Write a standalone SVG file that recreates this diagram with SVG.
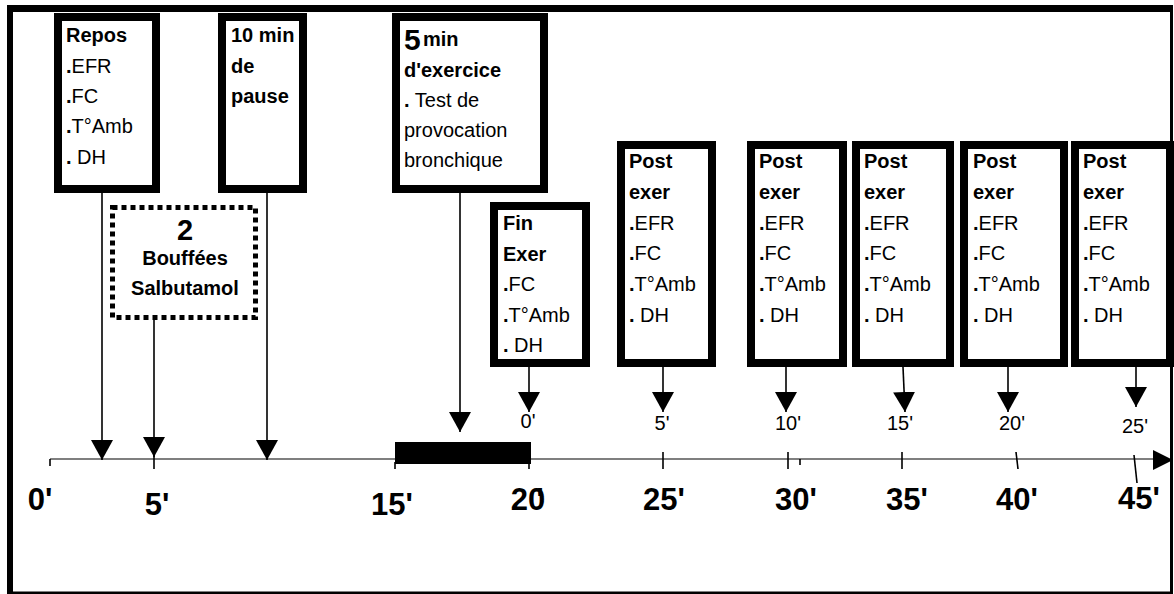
<svg xmlns="http://www.w3.org/2000/svg" width="1174" height="594" viewBox="0 0 1174 594">
<defs>
<style>
.box{fill:#fff;stroke:#000;stroke-width:8}
.dot{fill:#fff;stroke:#000;stroke-width:5;stroke-dasharray:5 4}
.t{font-family:"Liberation Sans",Arial,sans-serif;font-size:20px;fill:#000}
.b{font-weight:bold}
.sm{font-family:"Liberation Sans",Arial,sans-serif;font-size:20px;fill:#000;text-anchor:middle}
.big{font-family:"Liberation Sans",Arial,sans-serif;font-size:31px;font-weight:bold;fill:#000;text-anchor:middle}
.ln{stroke:#000;stroke-width:1.6;fill:none}
.tk{stroke:#000;stroke-width:1.6}
</style>
<marker id="ah" markerUnits="userSpaceOnUse" viewBox="0 0 20 22" refX="20" refY="11" markerWidth="20" markerHeight="22" orient="auto">
<path d="M0,0 L20,11 L0,22 z" fill="#000"/>
</marker>
</defs>
<rect width="1174" height="594" fill="#fff"/>
<g id="frame">
<rect x="7" y="5" width="1166" height="7" fill="#000"/>
<rect x="7" y="5" width="6" height="589" fill="#000"/>
<rect x="1170" y="5" width="3" height="589" fill="#000"/>
<rect x="7" y="591.5" width="1166" height="2.5" fill="#000"/>
</g>
<g id="timeline">
<line x1="50" y1="459" x2="1155" y2="459" stroke="#555" stroke-width="1.6"/>
<polygon points="1153,450 1173,460 1153,470" fill="#000"/>
<rect x="395" y="442" width="136" height="22" fill="#000"/>
<line class="tk" x1="50" y1="459" x2="50" y2="466"/>
<line class="tk" x1="395" y1="462" x2="395" y2="469"/>
<line class="tk" x1="529" y1="462" x2="529" y2="469"/>
<line class="tk" x1="663" y1="452" x2="663" y2="469"/>
<line class="tk" x1="788" y1="452" x2="788" y2="469"/>
<line class="tk" x1="800" y1="459" x2="800" y2="465"/>
<line class="tk" x1="902" y1="452" x2="902" y2="469"/>
<line class="tk" x1="1016" y1="452" x2="1018" y2="469"/>
<line class="tk" x1="1134" y1="455" x2="1137" y2="483"/>
<text class="big" x="40" y="510">0'</text>
<text class="big" x="157" y="515">5'</text>
<text class="big" x="392" y="515">15'</text>
<text class="big" x="528" y="510">20<tspan dx="-9">'</tspan></text>
<text class="big" x="664" y="510">25'</text>
<text class="big" x="796" y="510">30'</text>
<text class="big" x="907" y="510">35'</text>
<text class="big" x="1017" y="510">40'</text>
<text class="big" x="1139" y="509">45'</text>
<text class="sm" x="528" y="428">0'</text>
<text class="sm" x="662" y="430">5'</text>
<text class="sm" x="788" y="430">10'</text>
<text class="sm" x="900" y="430">15'</text>
<text class="sm" x="1012" y="430">20'</text>
<text class="sm" x="1135" y="433">25'</text>
</g>
<g id="connectors">
<line class="ln" x1="102" y1="193" x2="102" y2="460" marker-end="url(#ah)"/>
<line class="ln" x1="154" y1="320" x2="154" y2="457" marker-end="url(#ah)"/>
<line class="ln" x1="154" y1="455" x2="154" y2="469"/>
<line class="ln" x1="267" y1="193" x2="267" y2="460" marker-end="url(#ah)"/>
<line class="ln" x1="460" y1="193" x2="460" y2="432" marker-end="url(#ah)"/>
<line class="ln" x1="529" y1="367" x2="529" y2="412" marker-end="url(#ah)"/>
<line class="ln" x1="663" y1="367" x2="663" y2="412" marker-end="url(#ah)"/>
<line class="ln" x1="786" y1="367" x2="786" y2="412" marker-end="url(#ah)"/>
<line class="ln" x1="903" y1="367" x2="905" y2="412" marker-end="url(#ah)"/>
<line class="ln" x1="1008" y1="367" x2="1008" y2="412" marker-end="url(#ah)"/>
<line class="ln" x1="1136" y1="367" x2="1136" y2="407" marker-end="url(#ah)"/>
</g>
<g id="node-repos">
<rect class="box" x="58" y="17" width="98" height="172"/>
<text class="t" x="66"><tspan class="b" y="42">Repos</tspan><tspan x="66" y="73"><tspan class="b">.</tspan>EFR</tspan><tspan x="66" y="103"><tspan class="b">.</tspan>FC</tspan><tspan x="66" y="133"><tspan class="b">.</tspan>T°Amb</tspan><tspan x="66" y="164"><tspan class="b">.</tspan> DH</tspan></text>
</g>
<g id="node-pause">
<rect class="box" x="222" y="17" width="81" height="172"/>
<text class="t b" x="231"><tspan y="42">10 min</tspan><tspan x="231" y="73">de</tspan><tspan x="231" y="103">pause</tspan></text>
</g>
<g id="node-exercice">
<rect class="box" x="396" y="17" width="148" height="172"/>
<text class="t b" x="404" y="50" style="font-size:30px">5</text>
<text class="t b" x="423" y="46">min</text>
<text class="t" x="404"><tspan class="b" y="77">d'exercice</tspan><tspan x="404" y="107"><tspan class="b">.</tspan> Test de</tspan><tspan x="404" y="137">provocation</tspan><tspan x="404" y="167">bronchique</tspan></text>
</g>
<g id="node-salbutamol">
<rect class="dot" x="112.5" y="207.5" width="143" height="110"/>
<text class="t b" x="185" y="240" text-anchor="middle" style="font-size:29px">2</text>
<text class="t b" x="185" y="265" text-anchor="middle">Bouffées</text>
<text class="t b" x="185" y="295" text-anchor="middle">Salbutamol</text>
</g>
<g id="node-fin">
<rect class="box" x="494" y="206" width="92" height="157"/>
<text class="t" x="503"><tspan class="b" y="230">Fin</tspan><tspan class="b" x="503" y="261">Exer</tspan><tspan x="503" y="291"><tspan class="b">.</tspan>FC</tspan><tspan x="503" y="322"><tspan class="b">.</tspan>T°Amb</tspan><tspan x="503" y="352"><tspan class="b">.</tspan> DH</tspan></text>
</g>
<g id="node-post5">
<rect class="box" x="621" y="145" width="91" height="218"/>
<text class="t" x="629"><tspan class="b" y="168">Post</tspan><tspan class="b" x="629" y="199">exer</tspan><tspan x="629" y="230"><tspan class="b">.</tspan>EFR</tspan><tspan x="629" y="260"><tspan class="b">.</tspan>FC</tspan><tspan x="629" y="291"><tspan class="b">.</tspan>T°Amb</tspan><tspan x="629" y="322"><tspan class="b">.</tspan> DH</tspan></text>
</g>
<g id="node-post10">
<rect class="box" x="751" y="145" width="92" height="218"/>
<text class="t" x="759"><tspan class="b" y="168">Post</tspan><tspan class="b" x="759" y="199">exer</tspan><tspan x="759" y="230"><tspan class="b">.</tspan>EFR</tspan><tspan x="759" y="260"><tspan class="b">.</tspan>FC</tspan><tspan x="759" y="291"><tspan class="b">.</tspan>T°Amb</tspan><tspan x="759" y="322"><tspan class="b">.</tspan> DH</tspan></text>
</g>
<g id="node-post15">
<rect class="box" x="856" y="145" width="94" height="218"/>
<text class="t" x="864"><tspan class="b" y="168">Post</tspan><tspan class="b" x="864" y="199">exer</tspan><tspan x="864" y="230"><tspan class="b">.</tspan>EFR</tspan><tspan x="864" y="260"><tspan class="b">.</tspan>FC</tspan><tspan x="864" y="291"><tspan class="b">.</tspan>T°Amb</tspan><tspan x="864" y="322"><tspan class="b">.</tspan> DH</tspan></text>
</g>
<g id="node-post20">
<rect class="box" x="964" y="145" width="100" height="218"/>
<text class="t" x="973"><tspan class="b" y="168">Post</tspan><tspan class="b" x="973" y="199">exer</tspan><tspan x="973" y="230"><tspan class="b">.</tspan>EFR</tspan><tspan x="973" y="260"><tspan class="b">.</tspan>FC</tspan><tspan x="973" y="291"><tspan class="b">.</tspan>T°Amb</tspan><tspan x="973" y="322"><tspan class="b">.</tspan> DH</tspan></text>
</g>
<g id="node-post25">
<rect class="box" x="1075" y="145" width="95" height="218"/>
<text class="t" x="1083"><tspan class="b" y="168">Post</tspan><tspan class="b" x="1083" y="199">exer</tspan><tspan x="1083" y="230"><tspan class="b">.</tspan>EFR</tspan><tspan x="1083" y="260"><tspan class="b">.</tspan>FC</tspan><tspan x="1083" y="291"><tspan class="b">.</tspan>T°Amb</tspan><tspan x="1083" y="322"><tspan class="b">.</tspan> DH</tspan></text>
</g>
</svg>
